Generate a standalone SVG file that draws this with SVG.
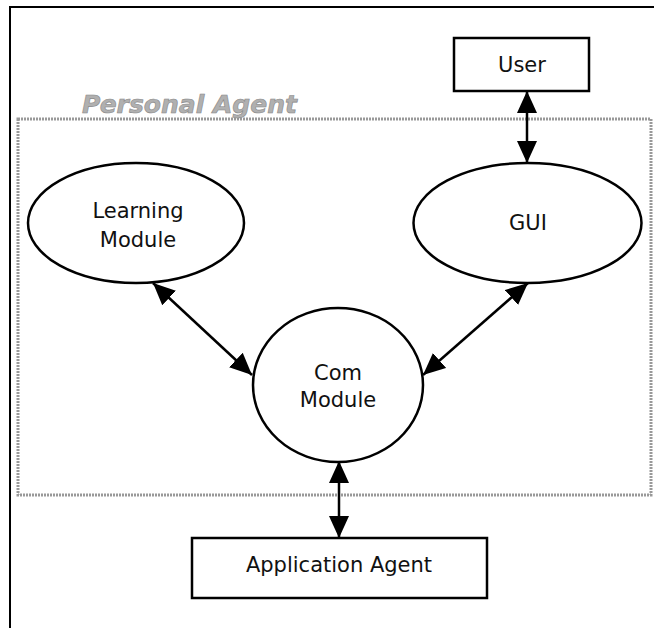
<svg xmlns="http://www.w3.org/2000/svg" width="654" height="628" viewBox="0 0 654 628">
<style>
.shape{fill:#fff;stroke:#000;stroke-width:2.5}
.lbl{font-family:"DejaVu Sans",Verdana,sans-serif;font-size:21px;fill:#111;text-anchor:middle}
.conn{stroke:#000;stroke-width:2.5;fill:none;marker-start:url(#ah);marker-end:url(#ah)}
</style>
<defs>
<marker id="ah" markerUnits="userSpaceOnUse" viewBox="0 0 22 20" refX="22" refY="10" markerWidth="22" markerHeight="20" orient="auto-start-reverse">
<path d="M0,0 L22,10 L0,20 Z" fill="#000"/>
</marker>
</defs>
<rect width="654" height="628" fill="#fff"/>
<g id="frame">
<path d="M10,628 L10,7 L654,7" fill="none" stroke="#000" stroke-width="2"/>
</g>
<g id="personal-agent">
<rect x="18" y="119" width="633" height="376" fill="none" stroke="#999" stroke-width="3" stroke-dasharray="2 1"/>
<text x="82" y="113" font-family="'DejaVu Sans',Verdana,sans-serif" font-size="25" font-weight="bold" font-style="italic" fill="#b0b0b0" stroke="#888" stroke-width="0.6">Personal Agent</text>
</g>
<g id="connectors">
<line class="conn" x1="527" y1="91" x2="527" y2="163"/>
<line class="conn" x1="153" y1="283" x2="252" y2="375"/>
<line class="conn" x1="528" y1="283" x2="423" y2="375"/>
<line class="conn" x1="339" y1="461" x2="339" y2="538"/>
</g>
<g id="user">
<rect class="shape" x="454" y="38" width="135" height="53"/>
<text class="lbl" x="522" y="72">User</text>
</g>
<g id="learning-module">
<ellipse class="shape" cx="136" cy="223" rx="108" ry="60"/>
<text class="lbl" x="138" y="218">Learning</text>
<text class="lbl" x="138" y="247">Module</text>
</g>
<g id="gui">
<ellipse class="shape" cx="527.5" cy="223" rx="114" ry="60"/>
<text class="lbl" x="528" y="230">GUI</text>
</g>
<g id="com-module">
<ellipse class="shape" cx="338" cy="385" rx="85" ry="77"/>
<text class="lbl" x="338" y="380">Com</text>
<text class="lbl" x="338" y="407">Module</text>
</g>
<g id="application-agent">
<rect class="shape" x="192" y="538" width="295" height="60"/>
<text class="lbl" x="339" y="572">Application Agent</text>
</g>
</svg>
